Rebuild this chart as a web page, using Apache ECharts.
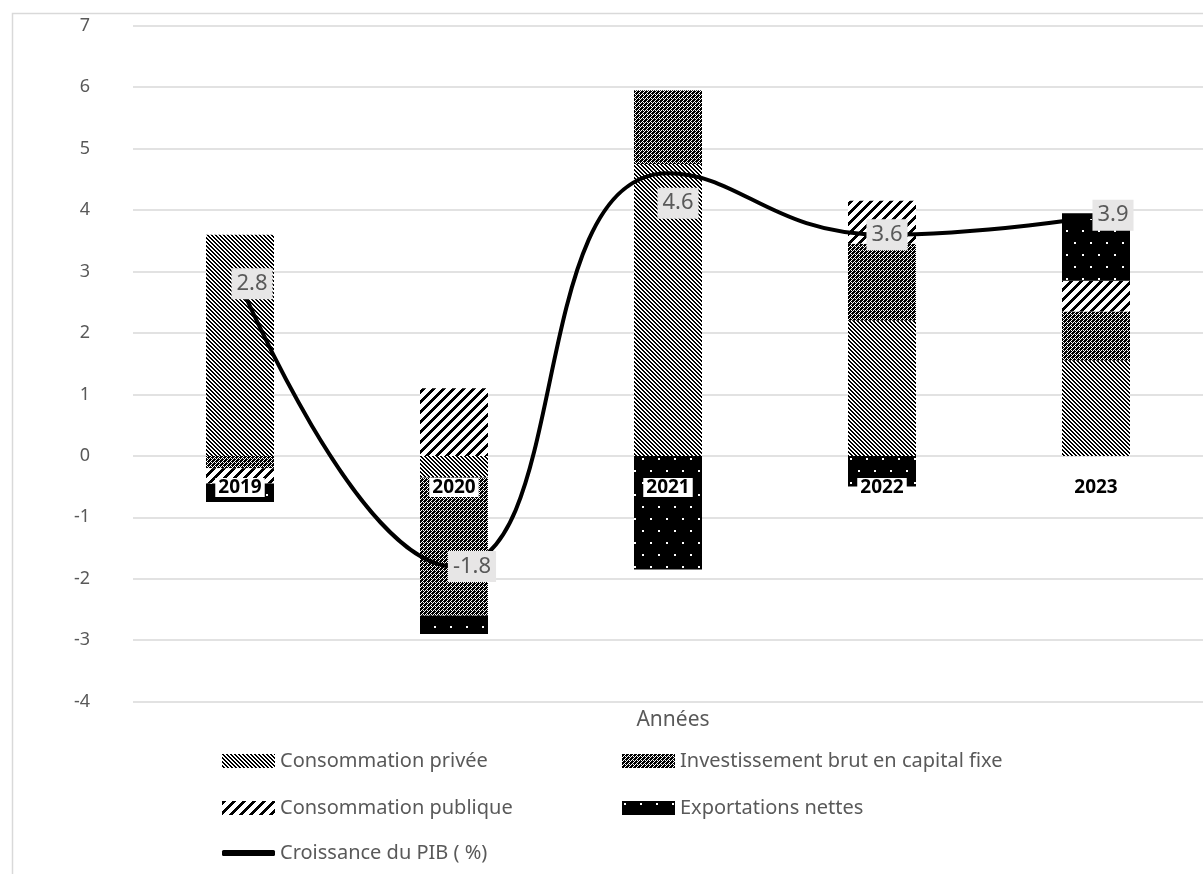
<!DOCTYPE html>
<html>
<head>
<meta charset="utf-8">
<script src="https://cdn.jsdelivr.net/npm/echarts@6/dist/echarts.min.js"></script>
<style>
  html, body { margin: 0; padding: 0; background: #fff; }
  #chart { width: 1203px; height: 874px; }
</style>
</head>
<body>
<div id="chart"></div>
<script>
// Contributions à la croissance du PIB (points de %)
const years = ['2019', '2020', '2021', '2022', '2023'];
const consoPrivee = [3.6, -0.35, 4.75, 2.2, 1.55];
const investissement = [-0.2, -2.25, 1.2, 1.25, 0.8];
const consoPublique = [-0.25, 1.1, 0, 0.7, 0.5];
const exportationsNettes = [-0.3, -0.3, -1.85, -0.5, 1.1];
const croissancePIB = [2.8, -1.8, 4.6, 3.6, 3.9];
const yMin = -4, yMax = 7, yStep = 1;

const seriesNames = {
  privee: 'Consommation privée',
  invest: 'Investissement brut en capital fixe',
  publique: 'Consommation publique',
  export: 'Exportations nettes',
  pib: 'Croissance du PIB ( %)'
};

const FONT = '"Noto Sans", "Open Sans", sans-serif';
const GREY_TEXT = '#595959';

// Pixel fill patterns (black on white), built on small canvases
function pattern(w, h, isBlack) {
  const c = document.createElement('canvas');
  c.width = w; c.height = h;
  const ctx = c.getContext('2d');
  ctx.fillStyle = '#fff';
  ctx.fillRect(0, 0, w, h);
  ctx.fillStyle = '#000';
  for (let y = 0; y < h; y++) {
    for (let x = 0; x < w; x++) {
      if (isBlack(x, y)) ctx.fillRect(x, y, 1, 1);
    }
  }
  return { image: c, repeat: 'repeat' };
}
const mod = (a, n) => ((a % n) + n) % n;

// downward diagonal stripes
const patPrivee = pattern(8, 8, (x, y) => {
  const d = mod(x - y, 4);
  return d === 0 || d === 1;
});
// dense checker with white specks
const patInvest = pattern(4, 4, (x, y) =>
  (x + y) % 2 === 0 || (x === 0 && y === 1) || (x === 2 && y === 3) || (x === 1 && y === 0));
// wide upward diagonal, thick
const patPublique = pattern(10, 10, (x, y) => mod(x + y, 10) < 4);
// black with sparse white dots
const patExport = pattern(16, 24, (x, y) => {
  const a = (x >= 2 && x < 4 && y >= 2 && y < 4);
  const b = (x >= 10 && x < 12 && y >= 14 && y < 16);
  return !(a || b);
});

// label nudges for the growth line (dx, dy per year)
const pibLabelOffsets = [[12, 0], [18, 0], [10, 30], [5, 0], [17, -1]];

const chart = echarts.init(document.getElementById('chart'), null, { renderer: 'canvas' });

function barSeries(name, data, fill) {
  return {
    name: name,
    type: 'bar',
    stack: 'contrib',
    barWidth: 68,
    data: data,
    itemStyle: { color: fill, borderWidth: 0 },
    emphasis: { disabled: true }
  };
}

function legendAt(name, left, top, extra) {
  return Object.assign({
    data: [name],
    left: left,
    top: top,
    padding: 0,
    itemWidth: 53,
    itemHeight: 14,
    itemGap: 0,
    icon: 'rect',
    selectedMode: false,
    textStyle: { color: GREY_TEXT, fontSize: 20, fontFamily: FONT }
  }, extra || {});
}

const option = {
  backgroundColor: '#fff',
  animation: false,
  grid: { left: 133, top: 25.7, width: 1085, height: 676, containLabel: false },
  xAxis: {
    type: 'category',
    data: years,
    axisLine: { show: false },
    axisTick: { show: false },
    splitLine: { show: false },
    axisLabel: { show: false }
  },
  yAxis: {
    type: 'value',
    min: yMin,
    max: yMax,
    interval: yStep,
    axisLine: { show: false },
    axisTick: { show: false },
    splitLine: { lineStyle: { color: '#d9d9d9', width: 1.5 } },
    axisLabel: { color: GREY_TEXT, fontSize: 18, fontFamily: FONT, margin: 43 }
  },
  legend: [
    legendAt(seriesNames.privee, 222, 751),
    legendAt(seriesNames.invest, 622, 751),
    legendAt(seriesNames.publique, 222, 798),
    legendAt(seriesNames.export, 622, 798),
    legendAt(seriesNames.pib, 222, 843, { icon: 'roundRect', itemHeight: 6 })
  ],
  graphic: [
    {
      type: 'rect',
      left: 10, top: 11,
      shape: { width: 1400, height: 1000 },
      style: { fill: 'none', stroke: '#d9d9d9', lineWidth: 1.5 },
      silent: true, z: -1
    },
    {
      type: 'text',
      x: 673, y: 720,
      style: {
        text: 'Années',
        fill: GREY_TEXT,
        font: '21px ' + FONT,
        textAlign: 'center',
        textVerticalAlign: 'middle'
      },
      silent: true
    }
  ],
  series: [
    barSeries(seriesNames.privee, consoPrivee, patPrivee),
    barSeries(seriesNames.invest, investissement, patInvest),
    barSeries(seriesNames.publique, consoPublique, patPublique),
    barSeries(seriesNames.export, exportationsNettes, patExport),
    {
      name: seriesNames.pib,
      type: 'line',
      smooth: 0.5,
      data: croissancePIB.map((v, i) => ({
        value: v,
        label: { offset: pibLabelOffsets[i] }
      })),
      symbol: 'circle',
      symbolSize: 3,
      showSymbol: true,
      z: 5,
      lineStyle: { color: '#000', width: 4 },
      itemStyle: { color: '#000' },
      label: {
        show: true,
        position: 'inside',
        formatter: p => Number(p.value).toFixed(1),
        color: GREY_TEXT,
        fontSize: 22,
        fontFamily: FONT,
        backgroundColor: '#e7e6e6',
        padding: [5, 5, 4, 5]
      },
      emphasis: { disabled: true }
    },
    {
      // year labels sitting just under the zero line
      name: 'annees',
      type: 'scatter',
      data: years.map((y, i) => [i, 0]),
      symbol: 'rect',
      symbolSize: 2,
      itemStyle: { color: 'rgba(0,0,0,0)', opacity: 1 },
      z: 4,
      silent: true,
      label: {
        show: true,
        position: 'bottom',
        distance: 21,
        formatter: p => years[p.dataIndex],
        color: '#000',
        fontWeight: 'bold',
        fontSize: 19,
        fontFamily: FONT,
        backgroundColor: '#fff',
        padding: [0, 3, 0, 3]
      },
      emphasis: { disabled: true }
    }
  ]
};

chart.setOption(option);
</script>
</body>
</html>
